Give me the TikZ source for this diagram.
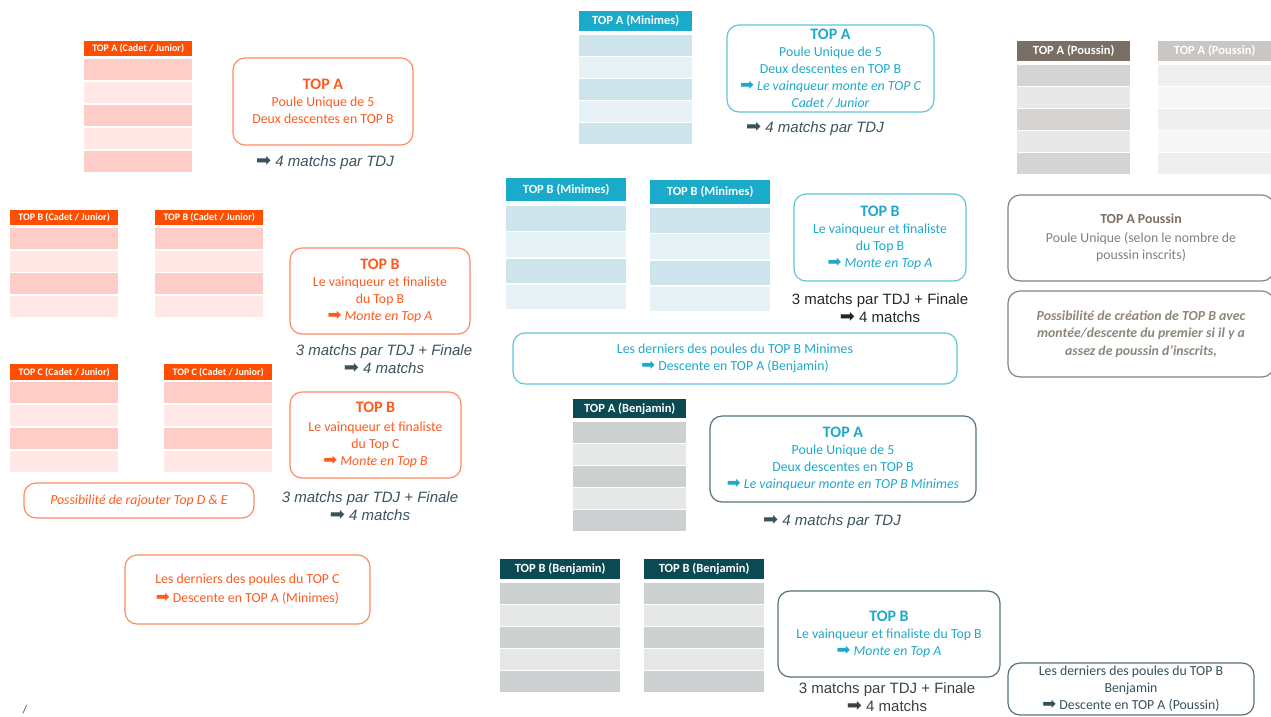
\documentclass[tikz,border=0pt]{standalone}
\usepackage{fontspec}
\setmainfont{Carlito}
\newfontfamily\arial{Liberation Sans}
\newfontfamily\fleche{DejaVu Sans}
\newcommand\fl{{\fleche\upshape\mdseries\scalebox{1.2}{➡}}}

% couleurs par categorie
\definecolor{cjtete}{HTML}{FF4E00}
\definecolor{cjfonce}{HTML}{FFCDC8}
\definecolor{cjclair}{HTML}{FFE8E5}
\definecolor{cjtexte}{HTML}{FF5A1E}
\definecolor{cjbord}{HTML}{FF8B62}
\definecolor{mintete}{HTML}{1AABCB}
\definecolor{minfonce}{HTML}{CDE4EC}
\definecolor{minclair}{HTML}{E7F2F6}
\definecolor{mintexte}{HTML}{1EA9CA}
\definecolor{minbord}{HTML}{5EC5DD}
\definecolor{bentete}{HTML}{0B4A52}
\definecolor{benfonce}{HTML}{CCD0D1}
\definecolor{benclair}{HTML}{E6E8E8}
\definecolor{benbord}{HTML}{56707A}
\definecolor{bentexte}{HTML}{34505A}
\definecolor{poutete}{HTML}{7A6F64}
\definecolor{poufonce}{HTML}{D5D4D3}
\definecolor{pouclair}{HTML}{E9E8E7}
\definecolor{poutexte}{HTML}{877D74}
\definecolor{poubord}{HTML}{8A8179}
\definecolor{pastete}{HTML}{C9C6C3}
\definecolor{pasfonce}{HTML}{EFEFEF}
\definecolor{pasclair}{HTML}{F7F7F7}
\definecolor{ardoise}{HTML}{3A535B}

\begin{document}
\begin{tikzpicture}[
	x=1pt,
	y=-1pt,
	entete/.style={anchor=north west, inner sep=0pt, text=white,
		font=\bfseries\fontsize{12.5}{14}\selectfont},
	petitete/.style={entete, font=\bfseries\fontsize{10}{12}\selectfont},
	cadre/.style={draw, rounded corners=12pt, line width=1.2pt,
		align=center, inner sep=0pt, font=\fontsize{13.8}{17}\selectfont},
	matchs/.style={align=center, text=ardoise,
		font=\arial\itshape\fontsize{15}{18}\selectfont},
	matchsdroit/.style={align=center, font=\arial\fontsize{15}{18}\selectfont}]

\useasboundingbox (0,0) rectangle (1271,716);
\clip (0,0) rectangle (1271,716);

% Cadet / Junior
\node[petitete, fill=cjtete, minimum width=108, minimum height=15] (cjA)
    at (84,41) {TOP A (Cadet / Junior)};
\foreach \i/\c in {0/cjfonce,1/cjclair,2/cjfonce,3/cjclair,4/cjfonce}
    \fill[\c] (84,59+23*\i) rectangle +(108,21);

\node[petitete, fill=cjtete, minimum width=108, minimum height=15] (cjBa)
    at (10,210) {TOP B (Cadet / Junior)};
\node[petitete, fill=cjtete, minimum width=108, minimum height=15] (cjBb)
    at (155,210) {TOP B (Cadet / Junior)};
\foreach \i/\c in {0/cjfonce,1/cjclair,2/cjfonce,3/cjclair} {
    \fill[\c] (10,228+22.5*\i) rectangle +(108,21);
    \fill[\c] (155,228+22.5*\i) rectangle +(108,21);
}

\node[petitete, fill=cjtete, minimum width=108, minimum height=16] (cjCa)
    at (10,364) {TOP C (Cadet / Junior)};
\node[petitete, fill=cjtete, minimum width=108, minimum height=16] (cjCb)
    at (164,364) {TOP C (Cadet / Junior)};
\foreach \i/\c in {0/cjfonce,1/cjclair,2/cjfonce,3/cjclair} {
    \fill[\c] (10,382+23*\i) rectangle +(108,21);
    \fill[\c] (164,382+23*\i) rectangle +(108,21);
}

\node[cadre, draw=cjbord, text=cjtexte, minimum width=180, minimum height=87]
    (cjtopA) at (323,101.5)
    {{\bfseries\fontsize{16}{17}\selectfont TOP A}\\Poule Unique de 5\\
    Deux descentes en TOP B};
\node[matchs] (cjmA) at (325,163) {\fl\ 4 matchs par TDJ};

\node[cadre, draw=cjbord, text=cjtexte, minimum width=180, minimum height=86]
    (cjtopB) at (380,291)
    {{\bfseries\fontsize{16}{17}\selectfont TOP B}\\Le vainqueur et finaliste\\
    du Top B\\{\itshape\fl\ Monte en Top A}};
\node[matchs] (cjmB) at (384,359.5) {3 matchs par TDJ + Finale\\\fl\ 4 matchs};

\node[cadre, draw=cjbord, text=cjtexte, minimum width=171, minimum height=86]
    (cjtopC) at (375.5,435)
    {{\bfseries\fontsize{16}{17}\selectfont TOP B}\\[2pt]Le vainqueur et finaliste\\
    du Top C\\{\itshape\fl\ Monte en Top B}};
\node[matchs] (cjmC) at (370,506) {3 matchs par TDJ + Finale\\\fl\ 4 matchs};

\node[cadre, draw=cjbord, text=cjtexte, minimum width=230, minimum height=35]
    (cjDE) at (139,500.5) {\itshape Possibilité de rajouter Top D \& E};
\node[cadre, draw=cjbord, text=cjtexte, minimum width=245, minimum height=69]
    (cjdesc) at (247.5,589.5)
    {Les derniers des poules du TOP C\\[2pt]\fl\ Descente en TOP A (Minimes)};

\node[text=ardoise, font=\fontsize{12}{14}\selectfont] (barre) at (25,710) {/};

% Minimes
\node[entete, fill=mintete, minimum width=113, minimum height=20] (minA)
    at (579,11) {TOP A (Minimes)};
\foreach \i/\c in {0/minfonce,1/minclair,2/minfonce,3/minclair,4/minfonce}
    \fill[\c] (579,35+22*\i) rectangle +(113,20.5);

\node[entete, fill=mintete, minimum width=120, minimum height=23] (minBa)
    at (506,178) {TOP B (Minimes)};
\node[entete, fill=mintete, minimum width=120, minimum height=24] (minBb)
    at (650,180) {TOP B (Minimes)};
\foreach \i/\c in {0/minfonce,1/minclair,2/minfonce,3/minclair} {
    \fill[\c] (506,206+26.3*\i) rectangle +(120,24.5);
    \fill[\c] (650,208+26.3*\i) rectangle +(120,24.5);
}

\node[cadre, draw=minbord, text=mintexte, minimum width=207, minimum height=87]
    (mintopA) at (830.5,68.5)
    {{\bfseries\fontsize{16}{17}\selectfont TOP A}\\Poule Unique de 5\\
    Deux descentes en TOP B\\{\itshape\fl\ Le vainqueur monte en TOP C}\\
    {\itshape Cadet / Junior}};
\node[matchs] (minmA) at (815,129) {\fl\ 4 matchs par TDJ};

\node[cadre, draw=minbord, text=mintexte, minimum width=172, minimum height=87]
    (mintopB) at (880,237.5)
    {{\bfseries\fontsize{16}{17}\selectfont TOP B}\\Le vainqueur et finaliste\\
    du Top B\\{\itshape\fl\ Monte en Top A}};
\node[matchsdroit, text=black!85] (minmB) at (880,308)
    {3 matchs par TDJ + Finale\\\fl\ 4 matchs};

\node[cadre, draw=minbord, text=mintexte, minimum width=444, minimum height=51]
    (mindesc) at (735,358.5)
    {Les derniers des poules du TOP B Minimes\\\fl\ Descente en TOP A (Benjamin)};

% Benjamin
\node[entete, fill=bentete, minimum width=113, minimum height=19] (benA)
    at (573,399) {TOP A (Benjamin)};
\foreach \i/\c in {0/benfonce,1/benclair,2/benfonce,3/benclair,4/benfonce}
    \fill[\c] (573,422+22*\i) rectangle +(113,20.5);

\node[entete, fill=bentete, minimum width=120, minimum height=20] (benBa)
    at (500,559) {TOP B (Benjamin)};
\node[entete, fill=bentete, minimum width=120, minimum height=20] (benBb)
    at (644,559) {TOP B (Benjamin)};
\foreach \i/\c in {0/benfonce,1/benclair,2/benfonce,3/benclair,4/benfonce} {
    \fill[\c] (500,583+22*\i) rectangle +(120,20.5);
    \fill[\c] (644,583+22*\i) rectangle +(120,20.5);
}

\node[cadre, draw=benbord, text=mintexte, minimum width=266, minimum height=86]
    (bentopA) at (843,459)
    {{\bfseries\fontsize{16}{17}\selectfont TOP A}\\Poule Unique de 5\\
    Deux descentes en TOP B\\{\itshape\fl\ Le vainqueur monte en TOP B Minimes}};
\node[matchs] (benmA) at (832,522) {\fl\ 4 matchs par TDJ};

\node[cadre, draw=benbord, text=mintexte, minimum width=222, minimum height=86]
    (bentopB) at (889,634)
    {{\bfseries\fontsize{16}{17}\selectfont TOP B}\\Le vainqueur et finaliste du Top B\\
    {\itshape\fl\ Monte en Top A}};
\node[matchsdroit, text=black!75, font=\arial\fontsize{15}{17.5}\selectfont]
    (benmB) at (887,697) {3 matchs par TDJ + Finale\\\fl\ 4 matchs};

\node[cadre, draw=benbord, text=bentexte, minimum width=246, minimum height=52]
    (bendesc) at (1131,689)
    {Les derniers des poules du TOP B\\Benjamin\\\fl\ Descente en TOP A (Poussin)};

% Poussin
\node[entete, fill=poutete, minimum width=113, minimum height=19.5] (pouA)
    at (1017,41) {TOP A (Poussin)};
\node[entete, fill=pastete, minimum width=113, minimum height=19.5] (pouAbis)
    at (1158,41) {TOP A (Poussin)};
\foreach \i/\c/\d in {0/poufonce/pasfonce,1/pouclair/pasclair,2/poufonce/pasfonce,
    3/pouclair/pasclair,4/poufonce/pasfonce} {
    \fill[\c] (1017,64.5+22*\i) rectangle +(113,21);
    \fill[\d] (1158,64.5+22*\i) rectangle +(113,21);
}

\node[cadre, draw=poubord, text=poutexte, minimum width=266, minimum height=86]
    (poutop) at (1141,238)
    {{\bfseries\color{poutete}TOP A Poussin}\\[2pt]Poule Unique (selon le nombre de\\
    poussin inscrits)};
\node[cadre, draw=poubord, text=poutete!85, minimum width=266, minimum height=86,
    font=\bfseries\itshape\fontsize{13.8}{17.5}\selectfont]
    (poutopB) at (1141,334)
    {Possibilité de création de TOP B avec\\
    montée/descente du premier si il y a\\assez de poussin d’inscrits,};

\end{tikzpicture}
\end{document}
